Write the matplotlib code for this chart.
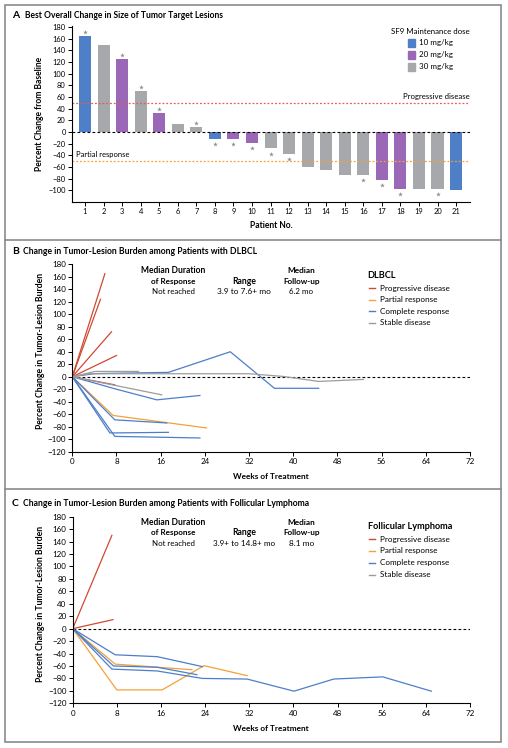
import matplotlib
matplotlib.use("Agg")
import matplotlib.pyplot as plt
from matplotlib.patches import Rectangle
from matplotlib.lines import Line2D
import numpy as np

plt.rcParams['font.family'] = ['Lato', 'DejaVu Sans']

# ---- panel A data ----
patients = list(range(1, 22))
best_change = [165, 150, 125, 70, 33, 14, 8, -12, -12, -18, -28, -37,
               -60, -65, -73, -73, -82, -97, -98, -98, -100]
dose = [10, 30, 20, 30, 20, 30, 30, 10, 20, 20, 30, 30,
        30, 30, 30, 30, 20, 20, 30, 30, 10]
starred = [1, 3, 4, 5, 7, 8, 9, 10, 11, 12, 16, 17, 18, 20]
dose_levels = [10, 20, 30]
dose_labels = ['10 mg/kg', '20 mg/kg', '30 mg/kg']

# ---- panel B data (DLBCL), weeks / percent change ----
dlbcl_pd_x = [[0, 5.9], [0, 5.1], [0, 7.1], [0, 8.0], [0, 7.7]]
dlbcl_pd_y = [[0, 165], [0, 124], [0, 72], [0, 34], [0, -13]]
dlbcl_pr_x = [[0, 7.4, 24.3]]
dlbcl_pr_y = [[0, -62, -82]]
dlbcl_cr_x = [[0, 4, 17.4, 28.6, 36.6, 44.6],
              [0, 8, 15.3, 23.1],
              [0, 7.7, 17.1],
              [0, 6.8, 17.4],
              [0, 7.7, 23.1]]
dlbcl_cr_y = [[0, 5, 7, 40, -18.5, -18.5],
              [0, -20, -37, -30],
              [0, -69, -74],
              [0, -90, -89],
              [0, -95.5, -98]]
dlbcl_sd_x = [[0, 4.1, 12], [0, 3, 32, 38.2, 44.6, 52.7], [0, 16.2]]
dlbcl_sd_y = [[0, 8.5, 8.5], [0, 4.8, 4.8, 0.5, -7.5, -4.3], [0, -29]]

# ---- panel C data (follicular lymphoma) ----
fl_pd_x = [[0, 7.1], [0, 7.3]]
fl_pd_y = [[0, 150], [0, 14.5]]
fl_pr_x = [[0, 7.7, 21.6], [0, 8, 16.2, 23.8, 31.6]]
fl_pr_y = [[0, -57, -66], [0, -98.5, -98.5, -59.5, -75.5]]
fl_cr_x = [[0, 7.7, 15.3, 23.5],
           [0, 7.4, 15.3, 22.5],
           [0, 7.1, 15.3, 23.5, 31.6, 40.1, 47.3, 56.2, 65]]
fl_cr_y = [[0, -42, -45, -61],
           [0, -60, -62, -74],
           [0, -65, -68, -80, -81, -100.5, -81, -77.5, -100.5]]

response_labels = ['Progressive disease', 'Partial response',
                   'Complete response', 'Stable disease']

W, H = 508, 748
C_BLUE = '#4f7fc7'
C_PURPLE = '#9a68b6'
C_GRAY = '#a7a8ab'
C_RED = '#cf4a33'
C_ORANGE = '#f2a23a'
C_LBLUE = '#4d7ecb'
C_LGRAY = '#9c9c9c'
dose_colors = {10: C_BLUE, 20: C_PURPLE, 30: C_GRAY}
line_colors = [C_RED, C_ORANGE, C_LBLUE, C_LGRAY]

fig = plt.figure(figsize=(W / 100, H / 100), dpi=100)
renderer = fig.canvas.get_renderer()


def fx(x):
    return x / W


def fy(y):
    return 1 - y / H


def ftext(x, y, s, width=None, size=6.5, **kw):
    # place text by pixel position; if width given, scale font to that width
    kw.setdefault('va', 'center')
    t = fig.text(fx(x), fy(y), s, fontsize=10, **kw)
    if width is not None:
        bb = t.get_window_extent(renderer)
        ext = bb.height if kw.get('rotation') == 90 else bb.width
        t.set_fontsize(10 * width / ext)
    else:
        t.set_fontsize(size)
    return t


# frame and separators
fig.add_artist(Rectangle((fx(5), fy(742)), fx(501) - fx(5), fy(5) - fy(742),
                         transform=fig.transFigure, fill=False,
                         edgecolor='#8a8a8a', lw=1.2))
for yy in [240, 489]:
    fig.add_artist(Line2D([fx(5), fx(501)], [fy(yy), fy(yy)],
                          transform=fig.transFigure, color='#8a8a8a', lw=1.2))


def style_axes(ax, lsize):
    for s in ['top', 'right']:
        ax.spines[s].set_visible(False)
    for s in ['left', 'bottom']:
        ax.spines[s].set_linewidth(0.8)
    ax.tick_params(direction='out', length=3, width=0.7, labelsize=lsize, pad=1.5)


# ---------------- Panel A ----------------
axA = fig.add_axes([fx(72), fy(202), (470 - 72) / W, (202 - 26) / H])
cols = [dose_colors[d] for d in dose]
axA.bar(patients, best_change, width=0.65, color=cols)
for p in starred:
    v = best_change[p - 1]
    off = 7 if v > 0 else -9
    axA.plot(p, v + off, marker='*', color='#8c8c8c', ms=3.5, mec='none')
axA.axhline(0, color='black', lw=0.8, ls=(0, (2.5, 2)))
axA.axhline(50, color='#e0604e', lw=0.9, ls=(0, (1.5, 1.5)))
axA.axhline(-50, color=C_ORANGE, lw=0.9, ls=(0, (1.5, 1.5)))
axA.set_xlim(0.3, 21.75)
axA.set_ylim(-120, 182)
axA.set_yticks(np.arange(-100, 181, 20))
axA.set_xticks(patients)
style_axes(axA, 5.4)

ftext(12, 15, 'A', fontweight='bold', size=7.5)
ftext(25, 15, 'Best Overall Change in Size of Tumor Target Lesions',
      width=199, fontweight='bold')
ftext(271.5, 226, 'Patient No.', width=43, fontweight='bold', ha='center')
ftext(40, 114, 'Percent Change from Baseline', width=115, fontweight='bold',
      ha='center', rotation=90)
ftext(470, 97, 'Progressive disease', width=67, ha='right')
ftext(76, 155, 'Partial response', width=54, ha='left')

# manual legend for dose
ftext(430.5, 31, 'SF9 Maintenance dose', width=79, ha='center')
for i, (d, lab) in enumerate(zip(dose_levels, dose_labels)):
    yy = 43 + 12 * i
    fig.add_artist(Rectangle((fx(408), fy(yy + 3.5)), 7 / W, 7 / H,
                             transform=fig.transFigure, color=dose_colors[d]))
    ftext(419, yy, lab, width=34, ha='left')


# ---------------- Panels B and C ----------------
def trend_panel(rect, groups, letter, title, title_y, title_w,
                leg_title, leg_title_size, leg_y, range_text, range_w,
                fu_text, fu_w, ty, xl_y, yl_y):
    ax = fig.add_axes(rect)
    for (xs, ys), c in zip(groups, line_colors):
        for x, y in zip(xs, ys):
            ax.plot(x, y, color=c, lw=0.9)
    ax.plot([0, 72], [0, 0], color='black', lw=0.8, ls=(0, (2.5, 2)), zorder=0)
    ax.set_xlim(0, 72)
    ax.set_ylim(-120, 180)
    ax.set_xticks(np.arange(0, 73, 8))
    ax.set_yticks(np.arange(-120, 181, 20))
    style_axes(ax, 5.8)

    ftext(12, title_y, letter, fontweight='bold', size=7.5)
    ftext(23, title_y, title, width=title_w, fontweight='bold')
    ftext(271, xl_y, 'Weeks of Treatment', width=76, fontweight='bold', ha='center')
    ftext(40.5, yl_y, 'Percent Change in Tumor-Lesion Burden', width=156,
          fontweight='bold', ha='center', rotation=90)

    ftext(173.5, ty[0], 'Median Duration', width=65, ha='center', fontweight='bold')
    ftext(173.5, ty[1], 'of Response', width=45, ha='center', fontweight='bold')
    ftext(173.5, ty[2], 'Not reached', width=43, ha='center')
    ftext(244.5, ty[1], 'Range', width=24, ha='center', fontweight='bold')
    ftext(244, ty[2], range_text, width=range_w, ha='center')
    ftext(301.3, ty[0], 'Median', width=28, ha='center', fontweight='bold')
    ftext(301.3, ty[1], 'Follow-up', width=37, ha='center', fontweight='bold')
    ftext(301.3, ty[2], fu_text, width=fu_w, ha='center')

    # manual legend
    ftext(367.5, leg_y[0], leg_title, size=leg_title_size, fontweight='bold')
    item_size = None
    for lab, c, yy in zip(response_labels, line_colors, leg_y[1:]):
        fig.add_artist(Line2D([fx(369), fx(375)], [fy(yy), fy(yy)],
                              transform=fig.transFigure, color=c, lw=1.0))
        if item_size is None:
            t = ftext(379.5, yy, lab, width=70)
            item_size = t.get_fontsize()
        else:
            ftext(379.5, yy, lab, size=item_size)
    return ax


axB = trend_panel([fx(72.3), fy(451.7), (470 - 72.3) / W, (451.7 - 264.3) / H],
                  [(dlbcl_pd_x, dlbcl_pd_y), (dlbcl_pr_x, dlbcl_pr_y),
                   (dlbcl_cr_x, dlbcl_cr_y), (dlbcl_sd_x, dlbcl_sd_y)],
                  'B', 'Change in Tumor-Lesion Burden among Patients with DLBCL',
                  252, 234, 'DLBCL', 6.6, [276, 288, 299.7, 311.2, 322.8],
                  '3.9 to 7.6+ mo', 53, '6.2 mo', 24,
                  [270.7, 281.5, 291.7], 476.7, 351)

axC = trend_panel([fx(72.7), fy(703.3), (470 - 72.7) / W, (703.3 - 516.7) / H],
                  [(fl_pd_x, fl_pd_y), (fl_pr_x, fl_pr_y),
                   (fl_cr_x, fl_cr_y), ([], [])],
                  'C', 'Change in Tumor-Lesion Burden among Patients with Follicular Lymphoma',
                  503, 288, 'Follicular Lymphoma', 6.6,
                  [526.7, 539.3, 551, 563, 574.7],
                  '3.9+ to 14.8+ mo', 62, '8.1 mo', 25,
                  [522.7, 532.7, 543.3], 728.3, 604)

fig.savefig('out.png', dpi=100)
